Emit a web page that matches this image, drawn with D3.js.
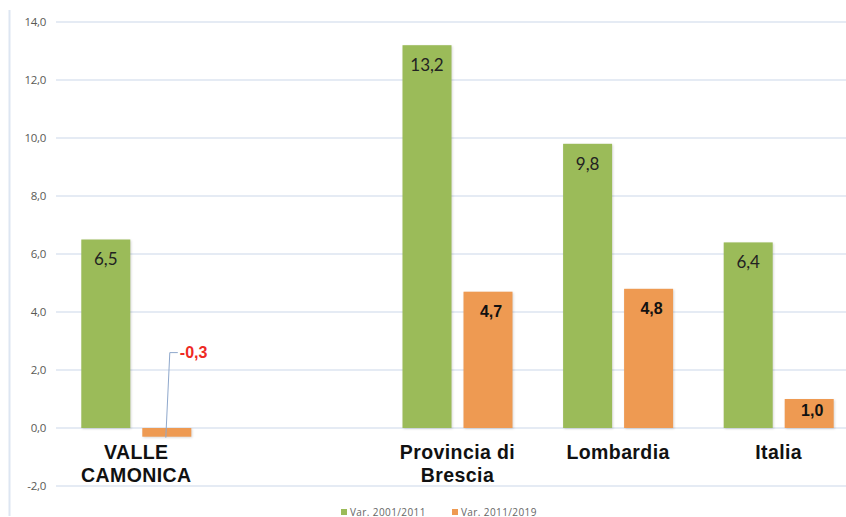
<!DOCTYPE html>
<html lang="it">
<head>
    <meta charset="UTF-8">
    <title>Var. popolazione</title>
    <style>
        body { margin: 0; background: #fff; }
        svg { display: block; font-family: "Liberation Sans", Arial, sans-serif; }
        .tick-label { font-family: "Open Sans", sans-serif; font-size: 11.5px; fill: #5a5a55; letter-spacing: -0.3px; }
        .cat { font-size: 19.5px; font-weight: bold; fill: #111; letter-spacing: 0.4px; }
        .val { font-family: Lato, "Open Sans", sans-serif; font-size: 17px; fill: #222; }
        .val2 { font-size: 16px; font-weight: bold; fill: #111; }
        .legend { font-family: "Open Sans", sans-serif; font-size: 10px; fill: #666; letter-spacing: 0.4px; }
    </style>
</head>
<body>
<div id="chart"></div>
<script src="https://cdn.jsdelivr.net/npm/d3@7"></script>
<script>
    // dati
    let categories = ['VALLE CAMONICA', '', 'Provincia di Brescia', 'Lombardia', 'Italia']
    let catLines = [['VALLE', 'CAMONICA'], [], ['Provincia di', 'Brescia'], ['Lombardia'], ['Italia']]
    let var0111 = [6.5, null, 13.2, 9.8, 6.4]
    let var1119 = [-0.3, null, 4.7, 4.8, 1.0]
    let seriesNames = ['Var. 2001/2011', 'Var. 2011/2019']
    let yTicks = [-2, 0, 2, 4, 6, 8, 10, 12, 14]

    let width = 846, height = 517
    let colors = ['#9bbb59', '#ee9a52']
    let fmt = v => d3.format('.1f')(v).replace('.', ',').replace('\u2212', '-')

    let svg = d3.select('#chart').append('svg')
        .attr('width', width)
        .attr('height', height)

    let y = d3.scaleLinear().domain([-2, 14]).range([486, 22])
    let x = d3.scaleBand().domain(categories.map((c, i) => i)).range([56, 859])
    let bw = 49, gap = 12
    let off = (x.bandwidth() - (2 * bw + gap)) / 2

    // asse sinistro
    svg.append('line')
        .attr('x1', 9.5).attr('x2', 9.5)
        .attr('y1', 10).attr('y2', 516)
        .attr('stroke', '#dde6f2').attr('stroke-width', 2)

    // griglia
    svg.append('g').selectAll('line')
        .data(yTicks)
        .enter().append('line')
        .attr('x1', 56).attr('x2', width)
        .attr('y1', d => y(d)).attr('y2', d => y(d))
        .attr('stroke', '#dce5f1').attr('stroke-width', 1.5)

    svg.append('g').selectAll('text')
        .data(yTicks)
        .enter().append('text')
        .attr('class', 'tick-label')
        .attr('x', 46)
        .attr('y', d => y(d))
        .attr('dy', '0.35em')
        .attr('text-anchor', 'end')
        .text(d => fmt(d))

    let series = [var0111, var1119]
    series.forEach((vals, s) => {
        let data = vals.map((v, i) => ({v, i})).filter(d => d.v !== null)
        let g = svg.append('g')
        g.selectAll('rect')
            .data(data)
            .enter().append('rect')
            .attr('x', d => x(d.i) + off + s * (bw + gap))
            .attr('width', bw)
            .attr('y', d => y(Math.max(0, d.v)))
            .attr('height', d => Math.abs(y(d.v) - y(0)))
            .attr('fill', colors[s])
            .style('filter', 'drop-shadow(1px 1px 1px rgba(0,0,0,0.15))')

        g.selectAll('text')
            .data(data.filter(d => d.v > 0))
            .enter().append('text')
            .attr('class', s === 0 ? 'val' : 'val2')
            .attr('x', d => x(d.i) + off + s * (bw + gap) + bw / 2 + (s === 1 ? 3 : 0))
            .attr('y', d => {
                let h = y(0) - y(d.v)
                return y(d.v) + Math.min(20, h / 2 - 3)
            })
            .attr('dy', '0.35em')
            .attr('text-anchor', 'middle')
            .text(d => fmt(d.v))
    })

    // etichetta negativa con linea guida
    var1119.forEach((v, i) => {
        if (v === null || v >= 0) return
        let cx = x(i) + off + bw + gap + bw / 2
        svg.append('path')
            .attr('d', `M${cx - 1},${y(v) + 1} L${cx + 3},${y(2.6)} L${cx + 11},${y(2.6)}`)
            .attr('fill', 'none')
            .attr('stroke', '#8fa8cc')
            .attr('stroke-width', 1)
        svg.append('text')
            .attr('x', cx + 13)
            .attr('y', y(2.6))
            .attr('dy', '0.35em')
            .attr('fill', '#ee2a24')
            .style('font-size', '16px')
            .style('font-weight', 'bold')
            .text(fmt(v))
    })

    // etichette categorie
    catLines.forEach((lines, i) => {
        let t = svg.append('text')
            .attr('class', 'cat')
            .attr('text-anchor', 'middle')
            .attr('x', x(i) + x.bandwidth() / 2)
            .attr('y', 459)
        lines.forEach((l, k) => {
            t.append('tspan')
                .attr('x', x(i) + x.bandwidth() / 2)
                .attr('dy', k === 0 ? 0 : 23)
                .text(l)
        })
    })

    // legenda
    let lx = [341, 452]
    seriesNames.forEach((n, s) => {
        svg.append('rect')
            .attr('x', lx[s]).attr('y', 509)
            .attr('width', 6).attr('height', 6)
            .attr('fill', colors[s])
        svg.append('text')
            .attr('class', 'legend')
            .attr('x', lx[s] + 9).attr('y', 512)
            .attr('dy', '0.35em')
            .text(n)
    })
</script>
</body>
</html>
